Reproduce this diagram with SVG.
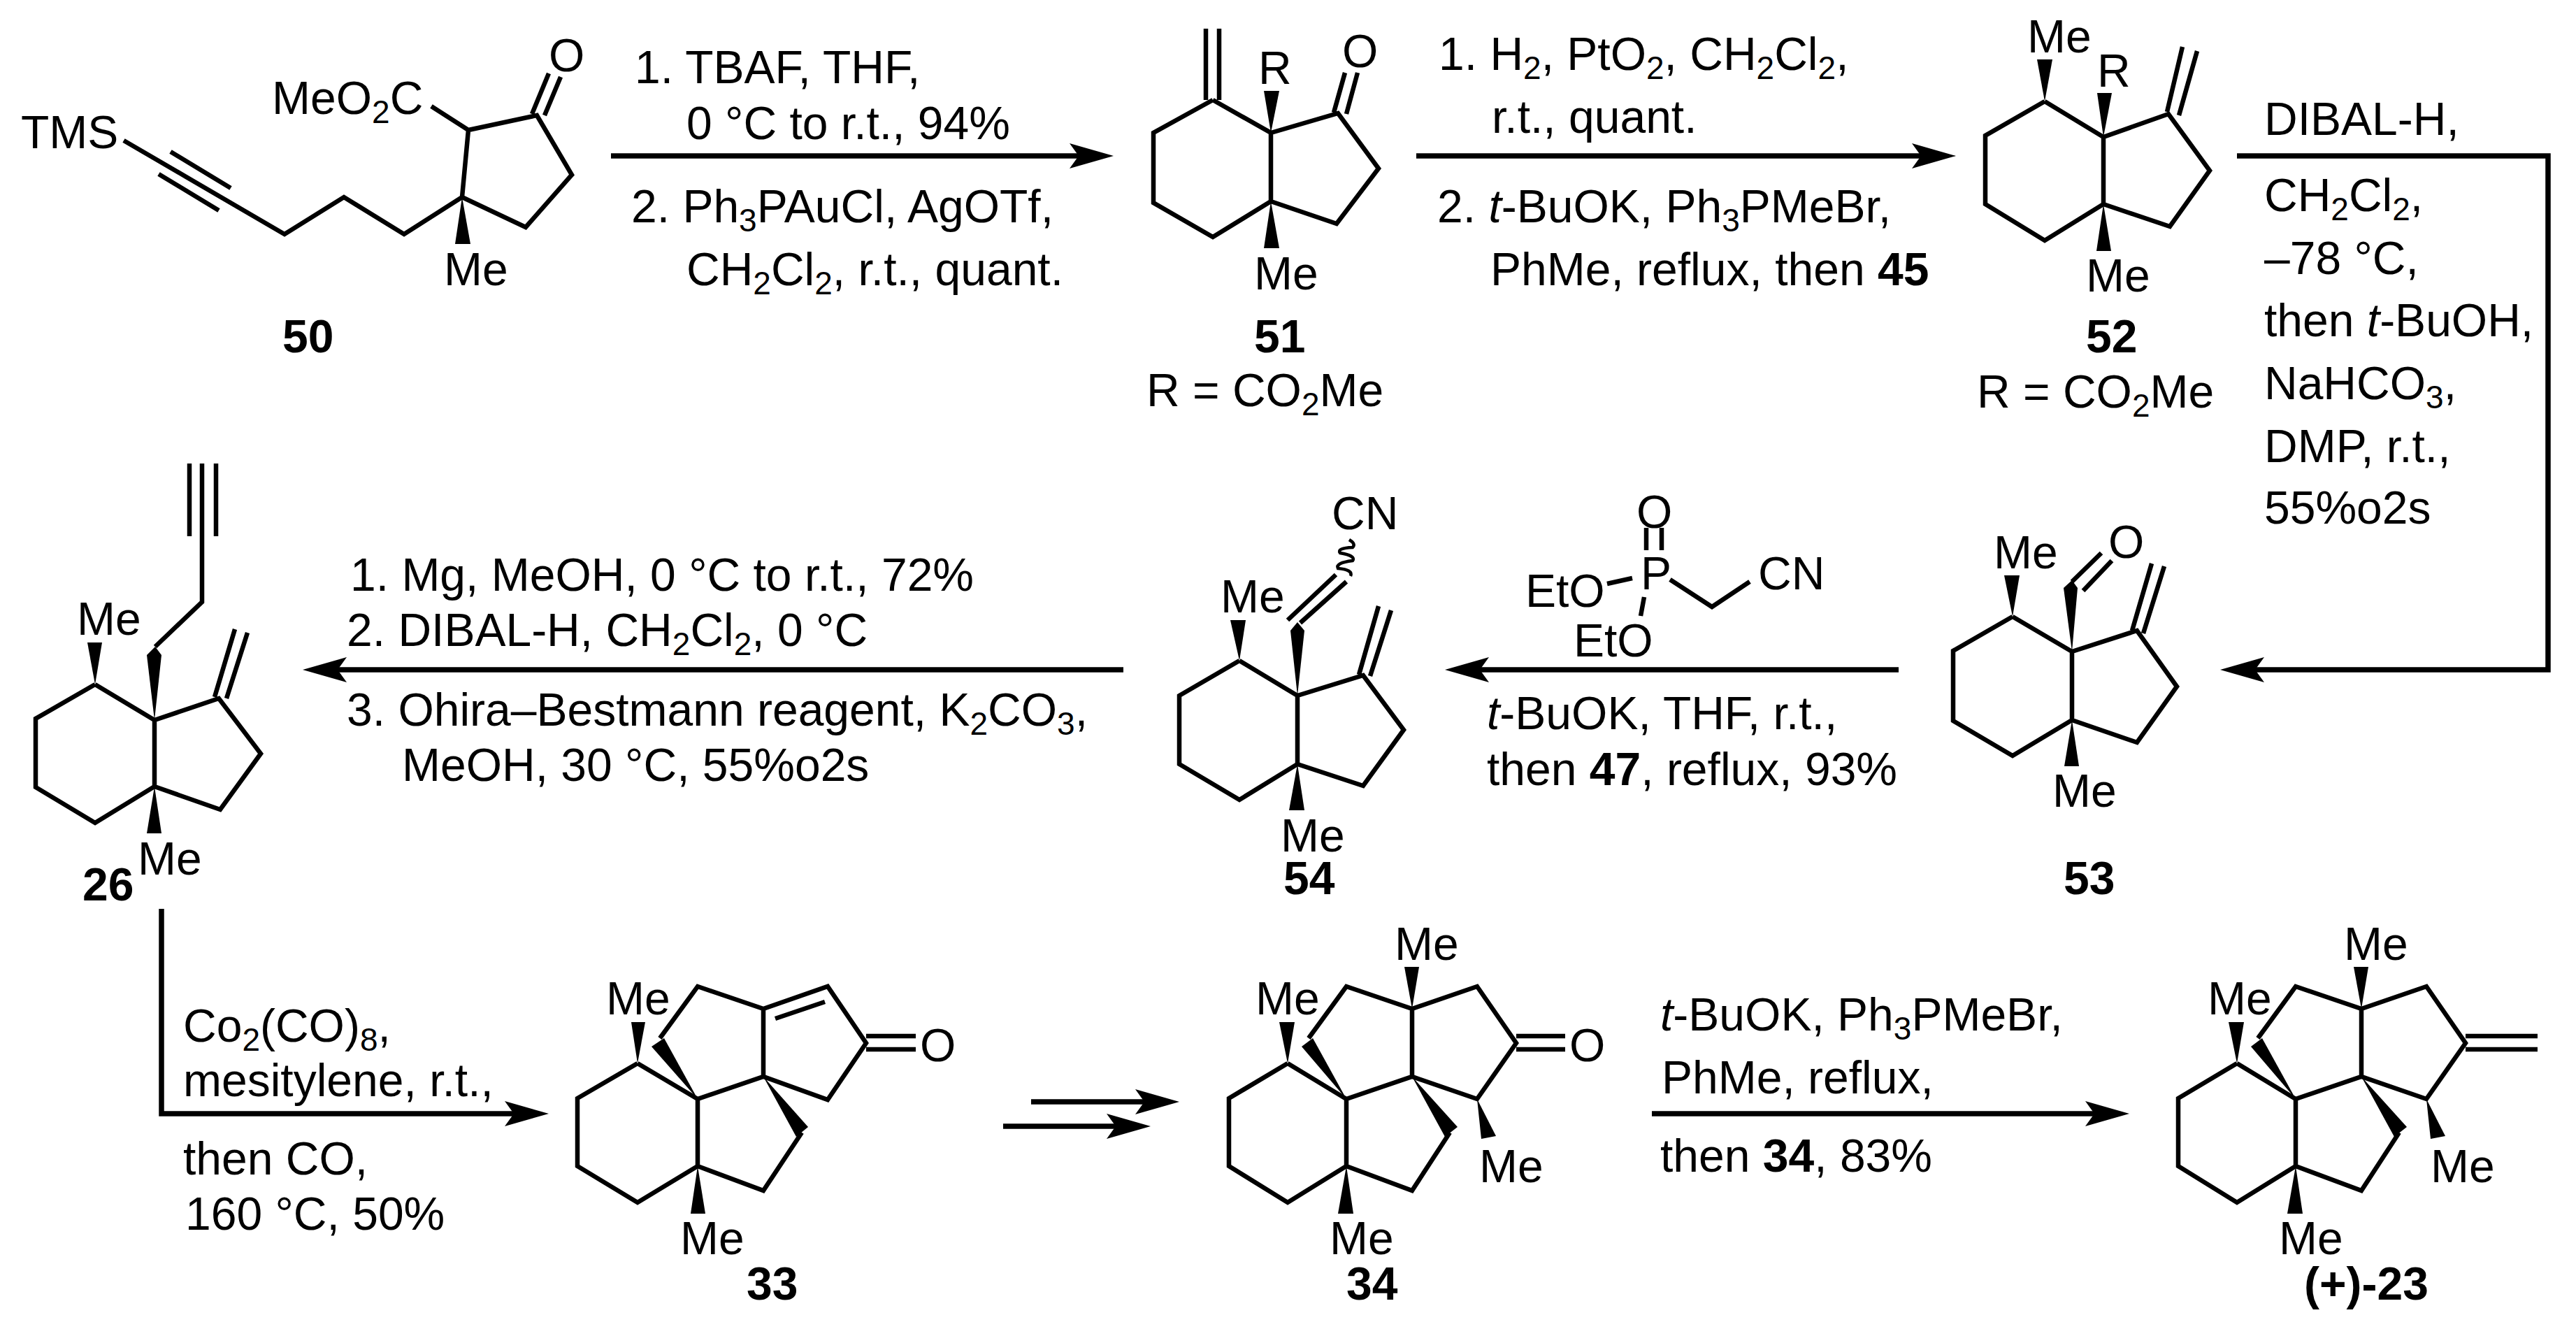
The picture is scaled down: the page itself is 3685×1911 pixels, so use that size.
<svg xmlns="http://www.w3.org/2000/svg" width="3685" height="1911" viewBox="0 0 3685 1911">
<style>
text{font-family:"Liberation Sans",Arial,sans-serif;font-size:66px;fill:#000}
.l{font-weight:700}
.s{font-size:46px}
.i{font-style:italic}
.bo{font-weight:700}
path.b{fill:none;stroke:#000;stroke-width:6.5;stroke-linejoin:miter;stroke-linecap:butt}
polygon{fill:#000}
.a{fill:none;stroke:#000;stroke-width:7.5;stroke-linejoin:miter}
</style>
<defs>
<marker id="h" markerUnits="userSpaceOnUse" markerWidth="64" markerHeight="40" refX="13" refY="20" orient="auto" viewBox="0 0 64 40"><path d="M0 2L63 20L0 38L13 20Z" fill="#000"/></marker>
</defs>
<rect width="3685" height="1911" fill="#fff"/>

<g id="connectors">
<path class="a" marker-end="url(#h)" d="M874 223H1543"/>
<path class="a" marker-end="url(#h)" d="M2026 223H2748"/>
<path class="a" marker-end="url(#h)" d="M3200 223H3645V958H3226"/>
<path class="a" marker-end="url(#h)" d="M2716 958H2117"/>
<path class="a" marker-end="url(#h)" d="M1607 958H483"/>
<path class="a" marker-end="url(#h)" d="M231 1300V1593H735"/>
<path class="a" marker-end="url(#h)" d="M1475 1576H1637"/>
<path class="a" marker-end="url(#h)" d="M1435 1611H1596"/>
<path class="a" marker-end="url(#h)" d="M2363 1593H2996"/>
</g>

<g id="reagents-1">
<text x="908" y="119">1. TBAF, THF,</text>
<text x="982" y="199">0 °C to r.t., 94%</text>
<text x="903" y="318">2. Ph<tspan class="s" dy="13">3</tspan><tspan dy="-13">PAuCl, AgOTf,</tspan></text>
<text x="982" y="408">CH<tspan class="s" dy="13">2</tspan><tspan dy="-13">Cl</tspan><tspan class="s" dy="13">2</tspan><tspan dy="-13">, r.t., quant.</tspan></text>
</g>
<g id="reagents-2">
<text x="2058" y="100">1. H<tspan class="s" dy="13">2</tspan><tspan dy="-13">, PtO</tspan><tspan class="s" dy="13">2</tspan><tspan dy="-13">, CH</tspan><tspan class="s" dy="13">2</tspan><tspan dy="-13">Cl</tspan><tspan class="s" dy="13">2</tspan><tspan dy="-13">,</tspan></text>
<text x="2134" y="190">r.t., quant.</text>
<text x="2056" y="318">2. <tspan class="i">t</tspan>-BuOK, Ph<tspan class="s" dy="13">3</tspan><tspan dy="-13">PMeBr,</tspan></text>
<text x="2132" y="408">PhMe, reflux, then <tspan class="bo">45</tspan></text>
</g>
<g id="reagents-3">
<text x="3239" y="193">DIBAL-H,</text>
<text x="3239" y="302">CH<tspan class="s" dy="13">2</tspan><tspan dy="-13">Cl</tspan><tspan class="s" dy="13">2</tspan><tspan dy="-13">,</tspan></text>
<text x="3239" y="392">–78 °C,</text>
<text x="3239" y="481">then <tspan class="i">t</tspan>-BuOH,</text>
<text x="3239" y="571">NaHCO<tspan class="s" dy="13">3</tspan><tspan dy="-13">,</tspan></text>
<text x="3239" y="661">DMP, r.t.,</text>
<text x="3239" y="749">55%o2s</text>
</g>
<g id="reagents-4">
<text x="2127" y="1043"><tspan class="i">t</tspan>-BuOK, THF, r.t.,</text>
<text x="2127" y="1123">then <tspan class="bo">47</tspan>, reflux, 93%</text>
</g>
<g id="reagents-5">
<text x="501" y="845">1. Mg, MeOH, 0 °C to r.t., 72%</text>
<text x="496" y="924">2. DIBAL-H, CH<tspan class="s" dy="13">2</tspan><tspan dy="-13">Cl</tspan><tspan class="s" dy="13">2</tspan><tspan dy="-13">, 0 °C</tspan></text>
<text x="496" y="1038">3. Ohira–Bestmann reagent, K<tspan class="s" dy="13">2</tspan><tspan dy="-13">CO</tspan><tspan class="s" dy="13">3</tspan><tspan dy="-13">,</tspan></text>
<text x="575" y="1117">MeOH, 30 °C, 55%o2s</text>
</g>
<g id="reagents-6">
<text x="262" y="1490">Co<tspan class="s" dy="13">2</tspan><tspan dy="-13">(CO)</tspan><tspan class="s" dy="13">8</tspan><tspan dy="-13">,</tspan></text>
<text x="262" y="1568">mesitylene, r.t.,</text>
<text x="262" y="1680">then CO,</text>
<text x="265" y="1759">160 °C, 50%</text>
</g>
<g id="reagents-7">
<text x="2375" y="1474"><tspan class="i">t</tspan>-BuOK, Ph<tspan class="s" dy="13">3</tspan><tspan dy="-13">PMeBr,</tspan></text>
<text x="2377" y="1564">PhMe, reflux,</text>
<text x="2375" y="1676">then <tspan class="bo">34</tspan>, 83%</text>
</g>

<g id="n50">
<path class="b" d="M177 201L407 335L492 282L578 335L661 282M244 217L330 269M227 249L313 301M661 282L670 186L768 165L818 250L752 325L661 282M761 163L785 105M779 165L802 110M617 152L670 186"/>
<polygon points="661,282 651,349 673,349"/>
<text x="30" y="212">TMS</text>
<text x="389" y="163">MeO<tspan class="s" dy="13">2</tspan><tspan dy="-13">C</tspan></text>
<text x="785" y="102">O</text>
<text x="635" y="408">Me</text>
<text class="l" x="404" y="504">50</text>
</g>

<g id="n51">
<path class="b" d="M1735 143L1650 190V290L1735 339L1818 288V190L1735 143M1725 41V143M1744 41V143M1818 190L1914 162L1972 241L1912 320L1818 288M1908 161L1924 104M1926 163L1942 104"/>
<polygon points="1818,190 1808,130 1830,130"/>
<polygon points="1818,288 1808,355 1830,355"/>
<text x="1800" y="120">R</text>
<text x="1920" y="96">O</text>
<text x="1794" y="414">Me</text>
<text class="l" x="1794" y="504">51</text>
<text x="1640" y="581">R = CO<tspan class="s" dy="13">2</tspan><tspan dy="-13">Me</tspan></text>
</g>

<g id="n52">
<path class="b" d="M2925 145L2840 194V292L2925 344L3009 292V196L2925 145M3009 196L3102 163L3161 244L3104 324L3009 292M3100 160L3122 67M3117 165L3143 73"/>
<polygon points="2925,145 2914,85 2936,85"/>
<polygon points="3009,196 3000,133 3021,133"/>
<polygon points="3009,292 2999,359 3020,359"/>
<text x="2900" y="75">Me</text>
<text x="3000" y="124">R</text>
<text x="2984" y="417">Me</text>
<text class="l" x="2984" y="504">52</text>
<text x="2828" y="583">R = CO<tspan class="s" dy="13">2</tspan><tspan dy="-13">Me</tspan></text>
</g>

<g id="n53">
<path class="b" d="M2879 882L2794 931V1031L2879 1081L2964 1030V932L2879 882M2964 932L3057 902L3114 982L3057 1062L2964 1030M3050 902L3078 806M3066 906L3096 810M2964 832L3006 791M2980 845L3021 802"/>
<polygon points="2879,882 2867,823 2889,823"/>
<polygon points="2964,1030 2953,1096 2974,1096"/>
<polygon points="2964,932 2952,841 2964,830 2972,841"/>
<text x="2852" y="813">Me</text>
<text x="3016" y="798">O</text>
<text x="2936" y="1154">Me</text>
<text class="l" x="2952" y="1279">53</text>
</g>

<g id="n47">
<path class="b" d="M2355 755V787M2377 755V787M2299 835L2335 827M2352 854L2347 881M2389 829L2449 868L2503 832"/>
<text x="2341" y="755">O</text>
<text x="2347" y="843">P</text>
<text x="2182" y="868">EtO</text>
<text x="2251" y="939">EtO</text>
<text x="2515" y="843">CN</text>
</g>

<g id="n54">
<path class="b" d="M1773 945L1687 995V1093L1773 1144L1856 1093V995L1773 945M1856 995L1950 966L2008 1044L1950 1124L1856 1093M1944 965L1972 867M1960 967L1990 873M1860 891L1926 832M1842 887L1911 822"/>
<path d="M1930 772Q1940 778 1935 783Q1912 784 1917 791Q1940 795 1935 802Q1910 805 1914 813Q1936 815 1932 824" fill="none" stroke="#000" stroke-width="4.5"/>
<polygon points="1773,945 1760,887 1782,887"/>
<polygon points="1856,1093 1844,1159 1866,1159"/>
<polygon points="1856,995 1846,902 1856,890 1866,902"/>
<text x="1746" y="876">Me</text>
<text x="1905" y="757">CN</text>
<text x="1832" y="1218">Me</text>
<text class="l" x="1836" y="1279">54</text>
</g>

<g id="n26">
<path class="b" d="M136 979L51 1028V1126L136 1177L221 1125V1030L136 979M221 1030L313 999L373 1078L315 1158L221 1125M307 997L336 900M324 999L354 905M222 925L289 861V767M271 663V767M289 663V767M309 663V767"/>
<polygon points="136,979 125,919 146,919"/>
<polygon points="221,1030 210,937 222,925 231,937"/>
<polygon points="221,1125 210,1192 231,1192"/>
<text x="110" y="908">Me</text>
<text x="197" y="1251">Me</text>
<text class="l" x="118" y="1288">26</text>
</g>

<g id="n33">
<path class="b" d="M912 1521L826 1571V1668L912 1720L998 1668V1572L912 1521M998 1572L1092 1540L1184 1573L1239 1492L1184 1411L1092 1443V1540M1092 1443L998 1411L944 1485M1109 1457L1180 1433M1239 1482H1310M1239 1501H1310M1147 1620L1092 1703L998 1668M998 1668V1572"/>
<polygon points="912,1521 903,1462 923,1462"/>
<polygon points="998,1572 932,1497 950,1485"/>
<polygon points="1092,1540 1139,1626 1156,1612"/>
<polygon points="998,1668 988,1736 1009,1736"/>
<text x="867" y="1451">Me</text>
<text x="1316" y="1518">O</text>
<text x="973" y="1794">Me</text>
<text class="l" x="1068" y="1859">33</text>
</g>

<g id="n34">
<path class="b" d="M1842 1521L1758 1571V1668L1842 1720L1926 1668V1572L1842 1521M1926 1572L2020 1540L2113 1572L2169 1492L2113 1411L2020 1443V1540M2020 1443L1926 1411L1872 1485M2074 1620L2020 1703L1926 1668M2169 1482H2239M2169 1501H2239"/>
<polygon points="1842,1521 1830,1462 1852,1462"/>
<polygon points="1926,1572 1862,1497 1878,1485"/>
<polygon points="2020,1540 2067,1626 2085,1612"/>
<polygon points="1926,1668 1914,1736 1936,1736"/>
<polygon points="2020,1443 2009,1383 2030,1383"/>
<polygon points="2113,1572 2119,1629 2140,1625"/>
<text x="1796" y="1451">Me</text>
<text x="1995" y="1373">Me</text>
<text x="2245" y="1518">O</text>
<text x="2116" y="1691">Me</text>
<text x="1902" y="1794">Me</text>
<text class="l" x="1926" y="1859">34</text>
</g>

<g id="n23" transform="translate(1358 0)">
<path class="b" d="M1842 1521L1758 1571V1668L1842 1720L1926 1668V1572L1842 1521M1926 1572L2020 1540L2113 1572L2169 1492L2113 1411L2020 1443V1540M2020 1443L1926 1411L1872 1485M2074 1620L2020 1703L1926 1668M2169 1482H2272M2169 1501H2272"/>
<polygon points="1842,1521 1830,1462 1852,1462"/>
<polygon points="1926,1572 1862,1497 1878,1485"/>
<polygon points="2020,1540 2067,1626 2085,1612"/>
<polygon points="1926,1668 1914,1736 1936,1736"/>
<polygon points="2020,1443 2009,1383 2030,1383"/>
<polygon points="2113,1572 2119,1629 2140,1625"/>
<text x="1800" y="1451">Me</text>
<text x="1995" y="1373">Me</text>
<text x="2119" y="1691">Me</text>
<text x="1902" y="1794">Me</text>
<text class="l" x="1938" y="1859">(+)-23</text>
</g>
</svg>
